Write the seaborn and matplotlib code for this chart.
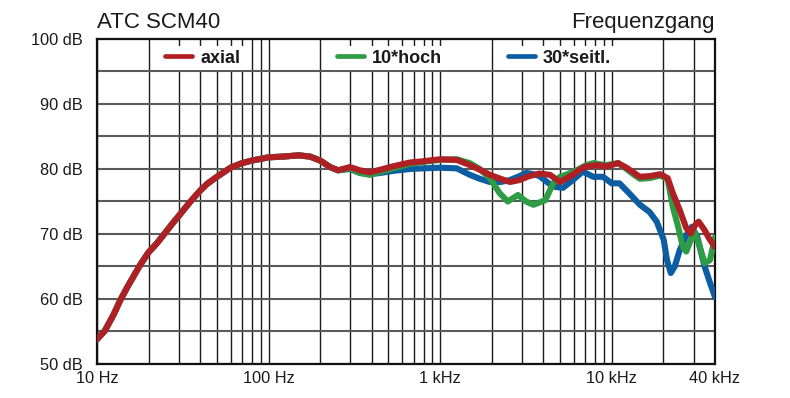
import numpy as np
import pandas as pd
import matplotlib
matplotlib.use("Agg")
import matplotlib.pyplot as plt
import seaborn as sns
from matplotlib.lines import Line2D
from matplotlib.ticker import FixedLocator, NullFormatter, FixedFormatter

# ---------------- data ----------------
common_freq = [10, 11.1, 12.5, 13.6, 15, 17.8, 20, 22.4, 25, 27.7, 30, 34.8, 40, 43.8,
               50, 60, 70, 80, 100, 120, 150, 175, 200, 228, 254]
common_db = [53.8, 55.1, 57.6, 59.7, 61.8, 65.2, 67.2, 68.6, 70.2, 71.7, 72.8, 74.9, 76.7, 77.7,
             78.8, 80.2, 80.9, 81.3, 81.8, 81.9, 82.1, 81.9, 81.3, 80.3, 79.8]

axial_freq = common_freq + [298, 340, 390, 450, 529, 667, 800, 1000, 1250, 1490, 1700, 1950,
                            2250, 2550, 2900, 3300, 3800, 4370, 5000, 5930, 6500, 7100, 8200,
                            9300, 10900, 12200, 13500, 14600, 16600, 19200, 21200, 22700, 24900,
                            27200, 28900, 30500, 32100, 34800, 37000, 40000]
axial_db = common_db + [80.3, 79.8, 79.5, 79.9, 80.4, 81.0, 81.2, 81.5, 81.4, 80.6, 79.9, 79.1,
                        78.5, 78.0, 78.3, 78.9, 79.3, 79.1, 78.0, 79.1, 79.9, 80.4, 80.6,
                        80.4, 80.9, 80.2, 79.4, 78.8, 78.9, 79.2, 78.6, 76.3, 73.7,
                        70.9, 70.1, 71.3, 71.9, 70.6, 69.3, 68.0]

hoch_freq = common_freq + [298, 340, 390, 450, 529, 667, 800, 1000, 1250, 1490, 1700, 1950,
                           2220, 2480, 2840, 3170, 3500, 4100, 4560, 5000, 5930, 7100, 7800,
                           8200, 9300, 10900, 12200, 13500, 14600, 16600, 19200, 21200, 22700,
                           24400, 26000, 27200, 28900, 30100, 32100, 34800, 37400, 40000]
hoch_db = common_db + [80.1, 79.4, 79.1, 79.6, 80.1, 80.8, 81.1, 81.4, 81.5, 80.9, 80.0, 78.6,
                       76.3, 75.0, 76.0, 75.0, 74.5, 75.2, 77.8, 78.8, 79.5, 80.6, 80.9,
                       80.8, 80.6, 80.9, 80.0, 79.1, 78.5, 78.6, 79.0, 78.4, 74.2,
                       71.1, 68.0, 67.3, 69.1, 70.6, 68.6, 65.5, 66.0, 69.5]

seitl_freq = common_freq + [298, 340, 390, 450, 529, 667, 800, 1000, 1250, 1490, 1700, 1950,
                            2250, 2550, 2900, 3170, 3500, 3800, 4200, 4560, 5200, 5930, 6780,
                            7300, 7800, 8900, 10000, 11100, 12600, 14600, 16600, 18300, 20100,
                            21000, 22100, 23300, 24900, 27200, 29300, 31500, 34800, 37400, 40000]
seitl_db = common_db + [80.0, 79.4, 79.2, 79.4, 79.7, 80.0, 80.1, 80.2, 80.1, 79.1, 78.5, 78.0,
                        78.0, 78.3, 78.9, 79.4, 79.2, 78.9, 78.0, 77.3, 77.1, 78.3, 79.6,
                        79.2, 78.8, 78.8, 77.8, 77.8, 76.3, 74.5, 73.4, 71.9, 69.1,
                        66.0, 64.0, 65.0, 67.5, 69.8, 71.1, 69.6, 65.0, 62.5, 60.3]

series_names = ["axial", "10*hoch", "30*seitl."]
series_colors = {"axial": "#B01F24", "10*hoch": "#2E9B45", "30*seitl.": "#0C5DA2"}

x_major = [10, 100, 1000, 10000, 40000]
x_major_labels = ["10 Hz", "100 Hz", "1 kHz", "10 kHz", "40 kHz"]
y_major = [50, 60, 70, 80, 90, 100]
y_major_labels = ["50 dB", "60 dB", "70 dB", "80 dB", "90 dB", "100 dB"]

df = pd.concat([
    pd.DataFrame({"freq": axial_freq, "db": axial_db, "series": "axial"}),
    pd.DataFrame({"freq": hoch_freq, "db": hoch_db, "series": "10*hoch"}),
    pd.DataFrame({"freq": seitl_freq, "db": seitl_db, "series": "30*seitl."}),
], ignore_index=True)

# ---------------- style ----------------
sns.set_theme(style="white")
plt.rcParams["font.family"] = ["Liberation Sans", "DejaVu Sans"]

fig = plt.figure(figsize=(7.9, 3.98), dpi=100)
ax = fig.add_axes([97 / 790, 34 / 398, 618 / 790, 325 / 398])

for name in ["30*seitl.", "10*hoch", "axial"]:
    sns.lineplot(data=df[df["series"] == name], x="freq", y="db", color=series_colors[name],
                 lw=4.4, estimator=None, sort=True, legend=False, ax=ax, zorder=3,
                 solid_capstyle="round", solid_joinstyle="round")

ax.set_xscale("log")
ax.set_xlim(10, 40000)
ax.set_ylim(50, 100)

minor_x = [m * d for d in [10, 100, 1000, 10000] for m in range(2, 10)
           if m * d < 40000 and m * d not in x_major]
ax.xaxis.set_major_locator(FixedLocator(x_major))
ax.xaxis.set_major_formatter(FixedFormatter(x_major_labels))
ax.xaxis.set_minor_locator(FixedLocator(minor_x))
ax.xaxis.set_minor_formatter(NullFormatter())
ax.yaxis.set_major_locator(FixedLocator(y_major))
ax.yaxis.set_major_formatter(FixedFormatter(y_major_labels))
ax.yaxis.set_minor_locator(FixedLocator([55, 65, 75, 85, 95]))

ax.grid(True, axis="x", which="both", color="#1a1a1a", lw=1.0)
ax.grid(True, axis="y", which="both", color="#5a5a5a", lw=1.5)
ax.set_axisbelow(True)

ax.tick_params(axis="both", which="both", length=0, labelsize=11.8, colors="#1a1a1a")
ax.tick_params(axis="y", pad=10)
ax.tick_params(axis="x", pad=5)
ax.set_xlabel("")
ax.set_ylabel("")

for s in ax.spines.values():
    s.set_visible(True)
    s.set_color("#111111")
    s.set_linewidth(1.6)

ax.set_title("ATC SCM40", loc="left", fontsize=16, pad=8, color="#1a1a1a")
ax.set_title("Frequenzgang", loc="right", fontsize=16, pad=8, color="#1a1a1a")

# legend: one white-backed entry per series
legend_x = [0.104, 0.382, 0.659]
for name, lx in zip(series_names, legend_x):
    h = Line2D([], [], color=series_colors[name], lw=3.4)
    leg = ax.legend(handles=[h], labels=[name], loc="center left", bbox_to_anchor=(lx, 0.941),
                    frameon=True, facecolor="white", edgecolor="none", framealpha=1,
                    fancybox=False, borderpad=0.2, handlelength=1.5, handletextpad=0.45,
                    borderaxespad=0, prop={"weight": "bold", "size": 13})
    leg.set_zorder(4)
    for t in leg.get_texts():
        t.set_color("#1a1a1a")
    ax.add_artist(leg)

fig.savefig("out.png", dpi=100)
